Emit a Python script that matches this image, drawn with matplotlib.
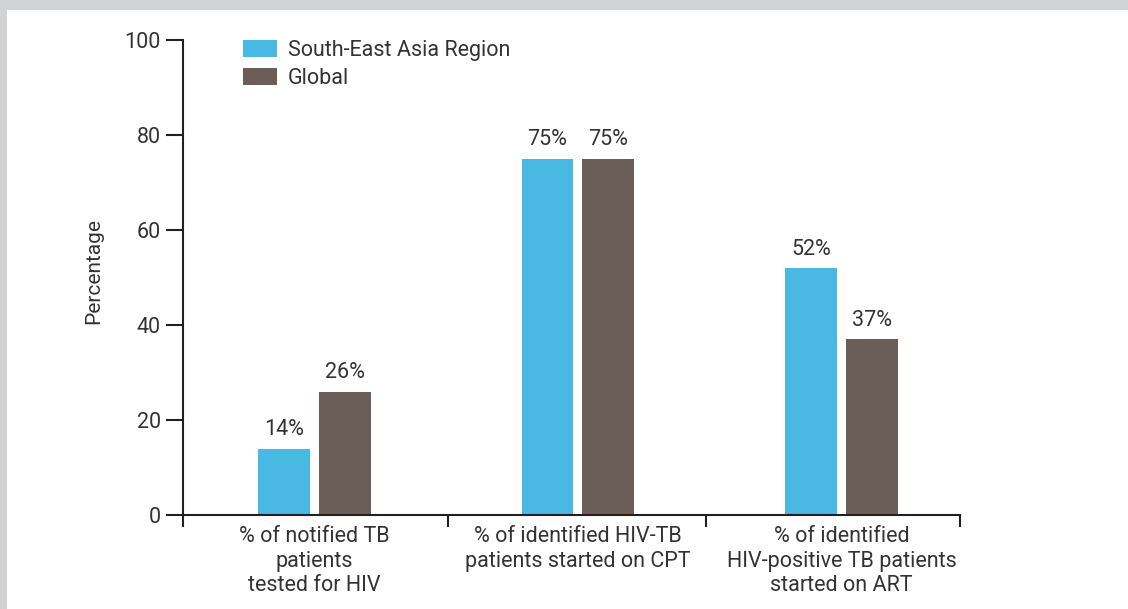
import matplotlib
matplotlib.use("Agg")
import matplotlib.pyplot as plt
from matplotlib.patches import Rectangle

categories = [
    "% of notified TB\npatients\ntested for HIV",
    "% of identified HIV-TB\npatients started on CPT",
    "% of identified\nHIV-positive TB patients\nstarted on ART",
]
sear_values = [14, 75, 52]
global_values = [26, 75, 37]
series_names = ["South-East Asia Region", "Global"]

BLUE = "#49b8e3"
BROWN = "#6b5e59"
DARK = "#231f20"
TEXT = "#333333"
FS = 15.5

plt.rcParams["font.family"] = ["Roboto", "DejaVu Sans"]

fig = plt.figure(figsize=(11.28, 6.09), dpi=100, facecolor="#d1d2d4")
panel = Rectangle((7 / 1128, 0), 1, 1 - 10 / 609, transform=fig.transFigure,
                  facecolor="white", edgecolor="none", zorder=-10)
fig.add_artist(panel)

ax = fig.add_axes([183 / 1128, 94 / 609, 777 / 1128, 475 / 609])
ax.set_facecolor("none")
ax.set_zorder(1)

centers = [0, 1, 2]
w = 0.197
off = 0.1157
b1 = ax.bar([c - off for c in centers], sear_values, w, color=BLUE, label=series_names[0])
b2 = ax.bar([c + off for c in centers], global_values, w, color=BROWN, label=series_names[1])

for bars, vals in ((b1, sear_values), (b2, global_values)):
    for rect, v in zip(bars, vals):
        ax.annotate(f"{v}%", (rect.get_x() + rect.get_width() / 2, v),
                    xytext=(0, 6), textcoords="offset points",
                    ha="center", va="bottom", fontsize=FS, color=TEXT)

ax.set_xlim(-0.499, 2.45)
ax.set_ylim(0, 100)
ax.set_yticks([0, 20, 40, 60, 80, 100])
ax.tick_params(axis="y", direction="out", length=12, width=1.5, color=DARK,
               labelsize=FS, labelcolor=TEXT, pad=4)

ax.set_xticks([-0.499, 0.507, 1.486, 2.45])
ax.set_xticklabels([])
ax.tick_params(axis="x", which="major", direction="out", length=8.6, width=1.5, color=DARK)
ax.set_xticks(centers, minor=True)
ax.set_xticklabels(categories, minor=True, fontsize=FS, color=TEXT, linespacing=1.23)
ax.tick_params(axis="x", which="minor", length=0, pad=8)

for s in ("top", "right"):
    ax.spines[s].set_visible(False)
for s in ("left", "bottom"):
    ax.spines[s].set_color(DARK)
    ax.spines[s].set_linewidth(1.5)

ax.set_ylabel("Percentage", fontsize=15, color=TEXT)
ax.yaxis.set_label_coords(-0.103, 0.513)

ax.legend(loc="upper left", bbox_to_anchor=(0.0772, 1.0), frameon=False, fontsize=FS,
          handlelength=1.58, handleheight=0.79, handletextpad=0.5, labelspacing=0.33,
          labelcolor=TEXT, borderaxespad=0, borderpad=0)

fig.savefig("out.png", dpi=100, facecolor=fig.get_facecolor())
